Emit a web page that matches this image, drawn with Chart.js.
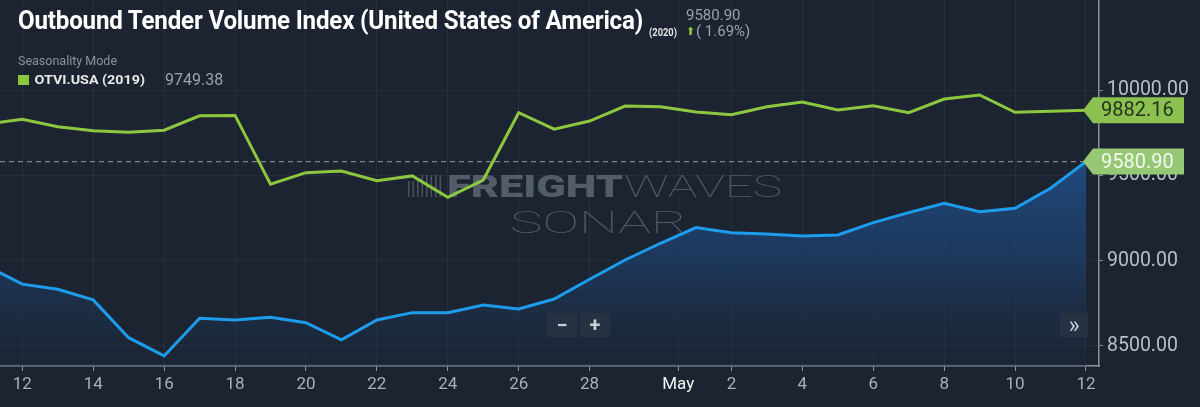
<!DOCTYPE html>
<html>
<head>
<meta charset="utf-8">
<script src="https://cdn.jsdelivr.net/npm/chart.js@4.4.1/dist/chart.umd.min.js"></script>
<style>
  html,body{margin:0;padding:0;background:#1b2430;width:1200px;height:407px;overflow:hidden;font-family:Roboto,"Noto Sans",sans-serif;}
  #wrap{position:relative;width:1200px;height:407px;}
  canvas{position:absolute;left:0;top:0;}
  .ov{position:absolute;white-space:nowrap;}
  #title{left:18px;top:6px;font-size:25px;font-weight:700;color:#ffffff;transform-origin:0 0;letter-spacing:-0.2px;}
  #yr{left:649px;top:27px;font-size:10px;font-weight:700;color:#e6e6e6;transform-origin:0 0;}
  #cur{left:686px;top:6px;font-size:15px;color:#9aa2ab;}
  #chg{left:686px;top:22px;font-size:15px;color:#9aa2ab;}
  #chg .ar{color:#8dc63f;font-size:11px;display:inline-block;transform:translateY(-1px);margin-right:1px;}
  #mode{left:18px;top:53px;font-size:12.5px;color:#8b939c;}
  #leg{left:18px;top:72px;font-size:13px;color:#e8e8e8;font-weight:700;}
  #leg .sq{display:inline-block;width:10px;height:10px;background:#8dc63f;margin-right:5px;vertical-align:-1px;}
  #legv{left:165px;top:70px;font-size:16px;color:#9aa2ab;}
  .btn{position:absolute;background:rgba(40,52,66,0.85);color:#c8ced6;font-size:20px;font-weight:700;text-align:center;line-height:24px;height:24px;}
</style>
</head>
<body>
<div id="wrap">
  <canvas id="c" width="1200" height="407"></canvas>
  <div class="ov" id="title">Outbound Tender Volume Index (United States of America)</div>
  <div class="ov" id="yr">(2020)</div>
  <div class="ov" id="cur">9580.90</div>
  <div class="ov" id="chg"><span class="ar">&#11014;</span>( 1.69%)</div>
  <div class="ov" id="mode">Seasonality Mode</div>
  <div class="ov" id="leg"><span class="sq"></span>OTVI.USA (2019)</div>
  <div class="ov" id="legv">9749.38</div>
  <div class="btn" style="left:547px;top:313px;width:30px;">&#8722;</div>
  <div class="btn" style="left:580px;top:313px;width:30px;">+</div>
  <div class="btn" style="left:1060px;top:313px;width:28px;font-weight:400;font-size:24px;">&#187;</div>
</div>
<script>
// ---- Data (x = day number; April days as-is, May days = 30 + day) ----
const days = [11,12,13,14,15,16,17,18,19,20,21,22,23,24,25,26,27,28,29,30,31,32,33,34,35,36,37,38,39,40,41,42];
const otvi2020 = [8969,8862,8832,8770,8548,8441,8662,8652,8668,8636,8535,8652,8695,8695,8740,8717,8775,8891,9004,9102,9194,9164,9157,9145,9151,9223,9282,9337,9287,9307,9425,9580.90];
const otvi2019 = [9802,9829,9786,9762,9753,9765,9850,9852,9448,9516,9526,9469,9497,9372,9473,9868,9771,9819,9907,9903,9872,9856,9903,9931,9884,9909,9868,9948,9972,9870,9876,9882.16];
const xTickValues = [12,14,16,18,20,22,24,26,28,30.5,32,34,36,38,40,42];
const yTickValues = [8500,9000,9500,10000];
const lastLabel2020 = "9580.90";
const lastLabel2019 = "9882.16";

// Title condensing
(function(){
  const t=document.getElementById('title');
  const w=t.getBoundingClientRect().width;
  t.style.transform='scaleX('+(625/w)+')';
  const y=document.getElementById('yr');
  const wy=y.getBoundingClientRect().width;
  y.style.transform='scaleX('+(28/wy)+')';
  const l=document.getElementById('leg');
  const wl=l.getBoundingClientRect().width;
  l.style.transformOrigin='0 0';
  l.style.transform='scaleX('+(127/wl)+')';
})();

const pts = (arr)=>arr.map((v,i)=>({x:days[i],y:v}));
const lastX = days[days.length-1];
const xMin = 11.371, xMax = 42.367;

const watermark = {
  id:'watermark',
  beforeDatasetsDraw(chart){
    const c=chart.ctx;
    c.save();
    c.fillStyle='rgba(110,120,132,0.55)';
    for(let i=0;i<8;i++){
      c.fillRect(408+i*4.5,175+(i<3?6:0),1.6,22-(i<3?6:0));
    }
    c.textBaseline='alphabetic';
    c.fillStyle='rgba(98,108,120,0.8)';
    c.font='900 31px Roboto, "DejaVu Sans"';
    c.save();
    c.translate(447,197);
    const fw=c.measureText('FREIGHT').width;
    c.scale(176/fw,1);
    c.fillText('FREIGHT',0,0);
    c.restore();
    c.fillStyle='rgba(98,108,120,0.75)';
    c.font='100 31px Roboto, "DejaVu Sans"';
    c.save();
    c.translate(624,197);
    const ww=c.measureText('WAVES').width;
    c.scale(158/ww,1);
    c.fillText('WAVES',0,0);
    c.restore();
    c.fillStyle='rgba(98,108,120,0.75)';
    c.font='100 31px Roboto, "DejaVu Sans"';
    c.save();
    c.translate(510,233);
    const sw=c.measureText('SONAR').width;
    c.scale(177/sw,1);
    c.fillText('SONAR',0,0);
    c.restore();
    c.restore();
  }
};

function drawTag(c,x,y,text,bg,fg){
  const left=x+10, right=1184, h=26;
  c.save();
  c.beginPath();
  c.moveTo(x,y);
  c.lineTo(left,y-h/2);
  c.lineTo(right,y-h/2);
  c.lineTo(right,y+h/2);
  c.lineTo(left,y+h/2);
  c.closePath();
  c.fillStyle=bg;
  c.fill();
  c.fillStyle=fg;
  c.font='400 20px Roboto';
  c.textBaseline='middle';
  c.textAlign='left';
  c.fillText(text,1101,y+1);
  c.restore();
}

const tags = {
  id:'tags',
  afterDraw(chart){
    const c=chart.ctx;
    const xs=chart.scales.x, ys=chart.scales.y;
    const px=xs.getPixelForValue(lastX);
    drawTag(c,px-3,ys.getPixelForValue(otvi2019[otvi2019.length-1]),lastLabel2019,'#8cc152','#26331b');
    drawTag(c,px-3,ys.getPixelForValue(otvi2020[otvi2020.length-1]),lastLabel2020,'#96c774','#f4f8f0');
  }
};

new Chart(document.getElementById('c'),{
  type:'line',
  data:{
    datasets:[
      {label:'OTVI.USA (2019)',data:pts(otvi2019),borderColor:'#8dc63f',borderWidth:3,pointRadius:0,tension:0,fill:false,order:1},
      {label:'OTVI.USA (2020)',data:pts(otvi2020),borderColor:'#1e9cec',borderWidth:3,pointRadius:0,tension:0,order:2,
        fill:'start',
        backgroundColor:(ctx)=>{
          const ca=ctx.chart.chartArea;
          if(!ca) return 'rgba(30,80,140,0.5)';
          const g=ctx.chart.ctx.createLinearGradient(0,160,0,ca.bottom);
          g.addColorStop(0,'rgba(31,78,135,0.9)');
          g.addColorStop(0.5,'rgba(30,62,104,0.75)');
          g.addColorStop(1,'rgba(28,40,58,0.4)');
          return g;
        }},
      {label:'last',data:[{x:xMin,y:otvi2020[otvi2020.length-1]},{x:lastX,y:otvi2020[otvi2020.length-1]}],
        borderColor:'rgba(150,158,168,0.8)',borderWidth:1.2,borderDash:[5,4],pointRadius:0,fill:false,order:3}
    ]
  },
  options:{
    responsive:false,
    animation:false,
    layout:{padding:0},
    plugins:{legend:{display:false},tooltip:{enabled:false}},
    scales:{
      x:{
        type:'linear',min:xMin,max:xMax,
        afterBuildTicks(s){s.ticks=xTickValues.map(v=>({value:v}));},
        afterFit(s){s.height=41;s.paddingLeft=0;s.paddingRight=0;},
        grid:{color:'rgba(255,255,255,0.055)',tickColor:'#8a9199',tickLength:5,drawTicks:true},
        border:{display:true,color:'#8a9199',width:1.5},
        ticks:{
          autoSkip:false,maxRotation:0,padding:4,
          font:{family:'Roboto',size:17},
          color:(ctx)=>ctx.tick && ctx.tick.value===30.5?'#f2f4f6':'#a9b0b8',
          callback:(v)=>v===30.5?'May':(v>30?String(v-30):String(v))
        }
      },
      y:{
        position:'right',min:8382,max:10529,
        afterBuildTicks(s){s.ticks=yTickValues.map(v=>({value:v}));},
        afterFit(s){s.width=101;s.paddingTop=0;s.paddingBottom=0;},
        grid:{color:'rgba(255,255,255,0.045)',tickColor:'#8a9199',tickLength:4},
        border:{display:true,color:'#8a9199',width:1.5},
        ticks:{padding:4,font:{family:'Roboto',size:19.5},color:'#b9bfc6',callback:(v)=>v.toFixed(2)}
      }
    }
  },
  plugins:[watermark,tags]
});
</script>
</body>
</html>
